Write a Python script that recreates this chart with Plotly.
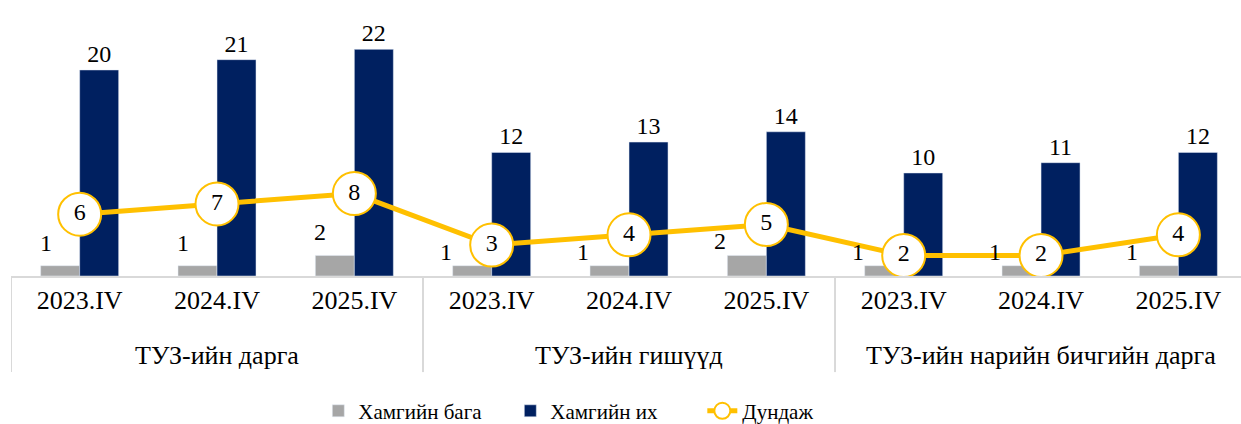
import plotly.graph_objects as go

group_names = ["ТУЗ-ийн дарга", "ТУЗ-ийн гишүүд", "ТУЗ-ийн нарийн бичгийн дарга"]
period_names = ["2023.IV", "2024.IV", "2025.IV"]
min_vals = [1, 1, 2, 1, 1, 2, 1, 1, 1]
max_vals = [20, 21, 22, 12, 13, 14, 10, 11, 12]
avg_vals = [6, 7, 8, 3, 4, 5, 2, 2, 4]

FONT = "Liberation Serif, Times New Roman, serif"
GRID = "#D9D9D9"

# unique category keys, shown with the period text only
keys = [f"{g}|{p}" for g in group_names for p in period_names]
tick_text = [p for g in group_names for p in period_names]

fig = go.Figure()
fig.add_trace(go.Bar(
    x=keys, y=min_vals, name="Хамгийн бага",
    marker_color="#A6A6A6",
))
fig.add_trace(go.Bar(
    x=keys, y=max_vals, name="Хамгийн их",
    marker_color="#002060",
    text=max_vals, textposition="outside", cliponaxis=False,
    textfont=dict(family=FONT, size=24, color="#000000"),
))
fig.add_trace(go.Scatter(
    x=keys, y=avg_vals, name="Дундаж",
    mode="lines+markers+text",
    line=dict(color="#FFC000", width=5),
    marker=dict(size=43, color="#FFFFFF", line=dict(color="#FFC000", width=2)),
    text=avg_vals, textposition="middle center",
    textfont=dict(family=FONT, size=24, color="#000000"),
    cliponaxis=False,
))

# labels of the small bars; moved aside where the average marker sits close
for k, lo, av in zip(keys, min_vals, avg_vals):
    crowded = av - lo <= 3
    fig.add_annotation(x=k, y=lo, xref="x", yref="y", text=str(lo), showarrow=False,
                       xshift=-46 if crowded else -34, yshift=14 if crowded else 23,
                       yanchor="middle",
                       font=dict(family=FONT, size=24, color="#000000"))

# group labels under the period labels, and the divider lines
n = len(period_names)
for i, g in enumerate(group_names):
    fig.add_annotation(x=keys[i * n + 1], y=-0.293, xref="x", yref="paper",
                       text=g, showarrow=False, yanchor="middle",
                       font=dict(family=FONT, size=26, color="#000000"))
for b in range(len(group_names) + 1):
    fig.add_shape(type="line", xref="x", yref="paper",
                  x0=b * n - 0.5, x1=b * n - 0.5, y0=0, y1=-0.352,
                  line=dict(color=GRID, width=2))

fig.update_layout(
    width=1241, height=424,
    margin=dict(l=11, r=0, t=3, b=148, autoexpand=False),
    plot_bgcolor="#FFFFFF", paper_bgcolor="#FFFFFF",
    barmode="group", bargap=0.432, bargroupgap=0,
    font=dict(family=FONT, size=24, color="#000000"),
    showlegend=True,
    legend=dict(orientation="h", x=0.484, xanchor="center", y=-0.495, yanchor="middle",
                font=dict(family=FONT, size=21), traceorder="normal",
                entrywidth=147),
    xaxis=dict(
        type="category", range=[-0.5, 8.456],
        tickvals=keys, ticktext=tick_text,
        showline=True, linecolor=GRID, linewidth=2,
        showgrid=False, ticks="",
        tickfont=dict(family=FONT, size=26, color="#000000"),
    ),
    yaxis=dict(range=[0, 26.5], visible=False, showgrid=False, zeroline=False),
)

# drop the default page margin so the figure sits at the window's corner
fig.write_html("out.html", config={"displayModeBar": False},
               post_script="document.body.style.margin='0';")
